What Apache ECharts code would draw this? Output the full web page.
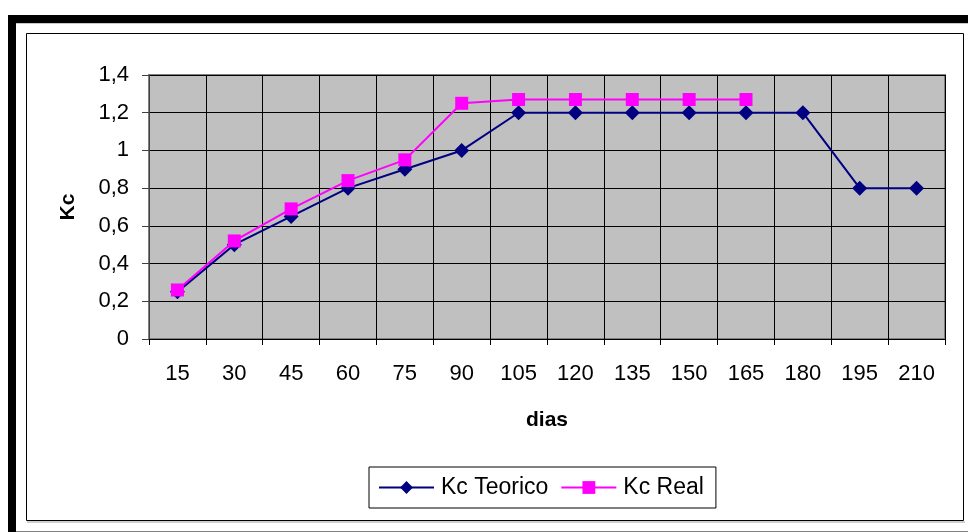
<!DOCTYPE html>
<html>
<head>
<meta charset="utf-8">
<script src="https://cdn.jsdelivr.net/npm/echarts@6/dist/echarts.min.js"></script>
<style>
  html, body { margin: 0; padding: 0; background: #ffffff; }
  #chart { width: 968px; height: 532px; }
</style>
</head>
<body>
<div id="chart"></div>
<script>
// Days after planting (x-axis categories)
const dias = ['15', '30', '45', '60', '75', '90', '105', '120', '135', '150', '165', '180', '195', '210'];
// Theoretical crop coefficient
const kcTeorico = [0.25, 0.5, 0.65, 0.8, 0.9, 1.0, 1.2, 1.2, 1.2, 1.2, 1.2, 1.2, 0.8, 0.8];
// Measured crop coefficient (no data after day 165)
const kcReal = [0.26, 0.52, 0.69, 0.84, 0.95, 1.25, 1.27, 1.27, 1.27, 1.27, 1.27, null, null, null];

const FONT = '"Liberation Sans", Arial, sans-serif';

const chart = echarts.init(document.getElementById('chart'), null, { renderer: 'canvas' });

chart.setOption({
  backgroundColor: '#ffffff',
  animation: false,
  textStyle: { fontFamily: FONT },
  graphic: [
    // heavy outer frame (top and left bands)
    { type: 'rect', shape: { x: 8, y: 15, width: 1000, height: 8 }, style: { fill: '#000000' }, silent: true },
    { type: 'rect', shape: { x: 8, y: 15, width: 8, height: 530 }, style: { fill: '#000000' }, silent: true },
    { type: 'line', shape: { x1: 16, y1: 23.5, x2: 968, y2: 23.5 }, style: { stroke: '#c8c8c8', lineWidth: 1 }, silent: true },
    { type: 'line', shape: { x1: 16, y1: 531.5, x2: 968, y2: 531.5 }, style: { stroke: '#808080', lineWidth: 1 }, silent: true },
    // chart area border
    { type: 'rect', shape: { x: 26.5, y: 33.5, width: 937, height: 487 }, style: { fill: null, stroke: '#000000', lineWidth: 1 }, silent: true },
    { type: 'line', shape: { x1: 27, y1: 522, x2: 965, y2: 522 }, style: { stroke: '#a0a0a0', lineWidth: 1 }, silent: true }
  ],
  grid: {
    left: 149, right: 23, top: 75, bottom: 193,
    show: true,
    backgroundColor: '#C0C0C0',
    borderColor: '#808080',
    borderWidth: 2
  },
  legend: {
    left: 369, top: 467,
    padding: [9, 12, 9, 9],
    borderColor: '#000000',
    borderWidth: 1,
    itemWidth: 55,
    itemHeight: 16,
    itemGap: 12,
    textStyle: { fontFamily: FONT, fontSize: 23, color: '#000000', padding: [0, 0, 0, 2] },
    data: ['Kc Teorico', 'Kc Real']
  },
  xAxis: {
    type: 'category',
    data: dias,
    boundaryGap: true,
    name: 'dias',
    nameLocation: 'middle',
    nameGap: 71,
    nameTextStyle: { fontFamily: FONT, fontSize: 21, fontWeight: 'bold', color: '#000000' },
    axisLine: { show: true, lineStyle: { color: '#000000', width: 1 } },
    axisTick: { show: true, inside: false, length: 6, alignWithLabel: false, lineStyle: { color: '#000000' } },
    axisLabel: { fontFamily: FONT, fontSize: 22, color: '#000000', margin: 24 },
    splitLine: { show: true, lineStyle: { color: '#000000', width: 1 } }
  },
  yAxis: {
    type: 'value',
    min: 0, max: 1.4, interval: 0.2,
    name: 'Kc',
    nameLocation: 'middle',
    nameRotate: 90,
    nameGap: 70,
    nameTextStyle: { fontFamily: FONT, fontSize: 21, fontWeight: 'bold', color: '#000000' },
    axisLine: { show: true, lineStyle: { color: '#404040', width: 1 } },
    axisTick: { show: true, inside: false, length: 7, lineStyle: { color: '#404040' } },
    axisLabel: {
      fontFamily: FONT, fontSize: 22, color: '#000000', margin: 20,
      formatter: v => String(Math.round(v * 10) / 10).replace('.', ',')
    },
    splitLine: { show: true, lineStyle: { color: '#000000', width: 1 } }
  },
  series: [
    {
      name: 'Kc Teorico',
      type: 'line',
      data: kcTeorico,
      symbol: 'diamond',
      symbolSize: 15,
      showAllSymbol: true,
      color: '#000080',
      lineStyle: { color: '#000080', width: 2 },
      itemStyle: { color: '#000080' }
    },
    {
      name: 'Kc Real',
      type: 'line',
      data: kcReal,
      symbol: 'rect',
      symbolSize: 13,
      showAllSymbol: true,
      connectNulls: false,
      color: '#FF00FF',
      lineStyle: { color: '#FF00FF', width: 2 },
      itemStyle: { color: '#FF00FF' }
    }
  ]
});
</script>
</body>
</html>
